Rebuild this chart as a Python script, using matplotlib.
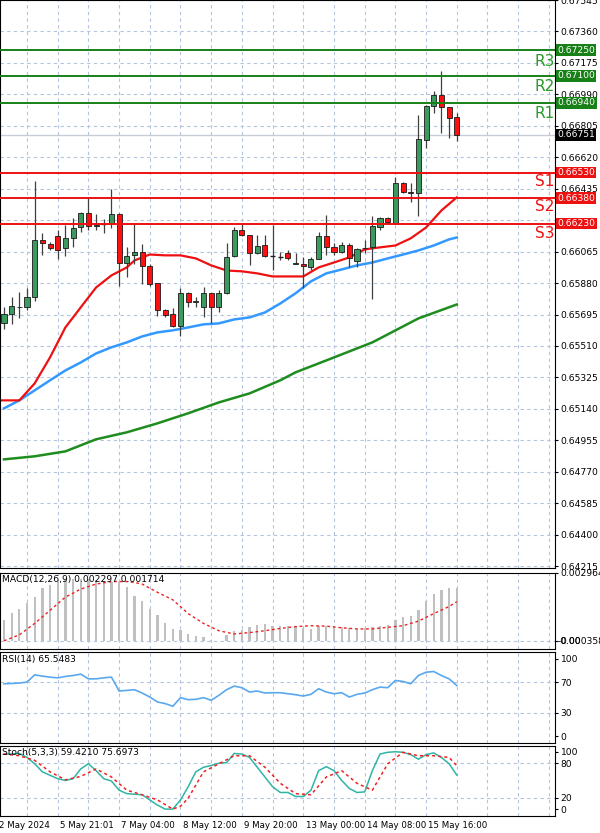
import matplotlib
matplotlib.use("Agg")
import matplotlib.pyplot as plt
import numpy as np

# ---- candles (AUDUSD-like H4) ----
opens = [0.65643, 0.65696, 0.65737, 0.65737, 0.65796, 0.66131, 0.66107, 0.66154, 0.66084, 0.66143,
         0.66207, 0.66295, 0.66213, 0.66225, 0.66231, 0.66284, 0.65996, 0.66043, 0.66060, 0.65978,
         0.65878, 0.65719, 0.65696, 0.65625, 0.65819, 0.65766, 0.65737, 0.65819, 0.65737, 0.65819,
         0.66037, 0.66190, 0.66160, 0.66054, 0.66101, 0.66043, 0.66037, 0.66054, 0.65990, 0.65990,
         0.65972, 0.66019, 0.66154, 0.66090, 0.66060, 0.66101, 0.66007, 0.66084, 0.66090, 0.66207,
         0.66260, 0.66231, 0.66466, 0.66413, 0.66407, 0.66719, 0.66919, 0.66989, 0.66913, 0.66854]
highs = [0.65737, 0.65796, 0.65825, 0.65849, 0.66478, 0.66172, 0.66119, 0.66190, 0.66219, 0.66260,
         0.66300, 0.66378, 0.66284, 0.66254, 0.66431, 0.66290, 0.66090, 0.66225, 0.66107, 0.65990,
         0.65880, 0.65725, 0.65731, 0.65849, 0.65825, 0.65796, 0.65854, 0.65822, 0.65837, 0.66113,
         0.66207, 0.66225, 0.66163, 0.66160, 0.66160, 0.66219, 0.66060, 0.66072, 0.66054, 0.66031,
         0.66031, 0.66178, 0.66278, 0.66113, 0.66119, 0.66113, 0.66084, 0.66131, 0.66272, 0.66266,
         0.66266, 0.66501, 0.66472, 0.66466, 0.66866, 0.66925, 0.67007, 0.67130, 0.66913, 0.66883]
lows = [0.65607, 0.65637, 0.65672, 0.65719, 0.65772, 0.66048, 0.66072, 0.66019, 0.66037, 0.66090,
        0.66178, 0.66190, 0.66190, 0.66172, 0.66201, 0.65860, 0.65913, 0.65990, 0.65872, 0.65860,
        0.65684, 0.65678, 0.65619, 0.65566, 0.65737, 0.65737, 0.65678, 0.65643, 0.65707, 0.65815,
        0.66034, 0.66154, 0.65984, 0.66050, 0.66034, 0.65954, 0.66013, 0.66013, 0.65990, 0.65849,
        0.65954, 0.66019, 0.66043, 0.66043, 0.66054, 0.65972, 0.65972, 0.66054, 0.65784, 0.66195,
        0.66225, 0.66231, 0.66407, 0.66354, 0.66272, 0.66672, 0.66878, 0.66760, 0.66731, 0.66713]
closes = [0.65696, 0.65743, 0.65740, 0.65796, 0.66131, 0.66113, 0.66084, 0.66072, 0.66143, 0.66201,
          0.66295, 0.66213, 0.66219, 0.66226, 0.66284, 0.65996, 0.66037, 0.66060, 0.65978, 0.65872,
          0.65719, 0.65690, 0.65625, 0.65819, 0.65766, 0.65772, 0.65819, 0.65737, 0.65819, 0.66031,
          0.66190, 0.66160, 0.66054, 0.66096, 0.66037, 0.66041, 0.66036, 0.66025, 0.65996, 0.65978,
          0.66019, 0.66154, 0.66090, 0.66060, 0.66101, 0.66025, 0.66078, 0.66086, 0.66213, 0.66260,
          0.66237, 0.66466, 0.66413, 0.66411, 0.66725, 0.66919, 0.66989, 0.66913, 0.66848, 0.66751]

# ---- moving averages (read at selected candles) ----
ma_red_idx = [0, 2, 4, 6, 8, 10, 12, 14, 16, 17, 19, 21, 23, 25, 27, 29, 31, 33, 35, 37,
              39, 41, 43, 45, 47, 49, 51, 53, 55, 57, 59]
ma_red = [0.65190, 0.65190, 0.65290, 0.65443, 0.65619, 0.65737, 0.65854, 0.65925, 0.65972, 0.66013,
          0.66048, 0.66043, 0.66043, 0.66025, 0.65984, 0.65954, 0.65949, 0.65937, 0.65919, 0.65919,
          0.65919, 0.65972, 0.66001, 0.66031, 0.66078, 0.66090, 0.66101, 0.66143, 0.66207, 0.66307, 0.66384]
ma_blue_idx = list(range(0, 59, 2)) + [59]
ma_blue = [0.65143, 0.65190, 0.65249, 0.65308, 0.65366, 0.65413, 0.65466, 0.65502, 0.65531, 0.65566,
           0.65590, 0.65602, 0.65619, 0.65637, 0.65643, 0.65666, 0.65678, 0.65707, 0.65760, 0.65820,
           0.65890, 0.65937, 0.65960, 0.65984, 0.66001, 0.66025, 0.66048, 0.66072, 0.66101, 0.66137, 0.66148]
ma_green_idx = [0, 4, 8, 12, 16, 20, 24, 28, 32, 36, 38, 42, 48, 54, 59]
ma_green = [0.64843, 0.64861, 0.64890, 0.64961, 0.65002, 0.65055, 0.65114, 0.65178, 0.65231, 0.65308,
            0.65355, 0.65425, 0.65531, 0.65672, 0.65754]

# ---- pivot levels ----
res_levels = [0.67250, 0.67100, 0.66940]
sup_levels = [0.66530, 0.66380, 0.66230]
res_names = ["R3", "R2", "R1"]
sup_names = ["S1", "S2", "S3"]
last_price = 0.66751
price_ticks = [0.67545, 0.67360, 0.67175, 0.66990, 0.66805, 0.66620, 0.66435, 0.66250, 0.66065,
               0.65880, 0.65695, 0.65510, 0.65325, 0.65140, 0.64955, 0.64770, 0.64585, 0.64400, 0.64215]

# ---- MACD ----
macd_hist = [0.00093, 0.00122, 0.00140, 0.00165, 0.00193, 0.00231, 0.00245, 0.00259, 0.00265, 0.00269,
             0.00269, 0.00269, 0.00265, 0.00262, 0.00259, 0.00255, 0.00234, 0.00198, 0.00173, 0.00140,
             0.00112, 0.00079, 0.00052, 0.00047, 0.00030, 0.00021, 0.00016, 0.00004, 0.00001, 0.00026,
             0.00044, 0.00047, 0.00062, 0.00069, 0.00072, 0.00064, 0.00064, 0.00066, 0.00066, 0.00054,
             0.00052, 0.00066, 0.00064, 0.00064, 0.00062, 0.00054, 0.00052, 0.00054, 0.00062, 0.00064,
             0.00069, 0.00090, 0.00105, 0.00107, 0.00136, 0.00173, 0.00205, 0.00222, 0.00233, 0.00230]
macd_sig_idx = [0, 2, 4, 6, 8, 10, 12, 14, 16, 17, 18, 20, 22, 24, 26, 28, 30, 32, 34, 36,
                38, 40, 42, 44, 46, 48, 50, 52, 54, 56, 58, 59]
macd_sig = [0.00000, 0.00026, 0.00076, 0.00133, 0.00191, 0.00226, 0.00248, 0.00259, 0.00259, 0.00255,
            0.00248, 0.00212, 0.00179, 0.00119, 0.00076, 0.00044, 0.00030, 0.00036, 0.00044, 0.00054,
            0.00062, 0.00066, 0.00064, 0.00057, 0.00052, 0.00052, 0.00059, 0.00066, 0.00086, 0.00119,
            0.00150, 0.00171]

# ---- RSI ----
rsi = [67.8, 68.2, 68.7, 70.0, 79.4, 77.7, 76.4, 75.5, 77.3, 78.5, 80.3, 74.2, 74.2, 75.5, 76.4,
       58.4, 59.2, 60.1, 55.8, 50.6, 44.2, 42.1, 38.6, 49.8, 47.2, 47.6, 49.8, 46.4, 52.8, 60.1,
       64.8, 62.7, 57.1, 58.4, 55.8, 56.2, 56.2, 54.9, 53.6, 51.9, 54.1, 61.4, 57.1, 54.9, 56.2,
       50.6, 54.1, 55.8, 60.1, 63.5, 62.7, 72.1, 70.8, 67.8, 78.5, 82.8, 83.7, 78.5, 74.2, 65.5]

# ---- Stochastic ----
stoch_k = [96, 96, 97, 90, 79, 65, 59, 53, 50, 53, 70, 79, 67, 53, 49, 33, 27, 26, 25, 16,
           7, 0, 0, 16, 39, 65, 73, 76, 80, 81, 97, 96, 90, 73, 56, 39, 29, 29, 22, 22,
           33, 67, 74, 67, 50, 36, 29, 30, 67, 96, 99, 100, 99, 95, 87, 95, 98, 90, 79, 59.4]
stoch_d_idx = [0, 2, 4, 6, 8, 10, 12, 14, 16, 18, 20, 22, 23, 24, 26, 28, 30, 32, 34, 36,
               38, 40, 42, 44, 46, 48, 50, 52, 54, 56, 58, 59]
stoch_d = [96, 93, 85, 65, 51, 57, 70, 56, 33, 25, 16, 0, 5, 19, 65, 79, 93, 93, 73, 45,
           27, 25, 56, 67, 45, 33, 79, 99, 93, 93, 90, 75.7]

date_idx = [-1, 7, 15, 23, 31, 39, 47, 55]
date_labels = ["2 May 2024", "5 May 21:01", "7 May 04:00", "8 May 12:00", "9 May 20:00",
               "13 May 00:00", "14 May 08:00", "15 May 16:00"]

GRID = dict(color="#b4c4dc", linestyle=(0, (3, 3)), linewidth=0.8)
XLIM = (-0.52, 71.8)
grid_x = np.arange(3, 72, 4)
FS = 6.6


def setup(ax):
    ax.set_xlim(*XLIM)
    ax.set_xticks(grid_x)
    ax.tick_params(axis="x", length=0, labelbottom=False)
    ax.yaxis.tick_right()
    ax.tick_params(axis="y", labelsize=FS, length=2, pad=2)
    ax.set_facecolor("white")
    for s in ax.spines.values():
        s.set_linewidth(0.8)
    ax.grid(axis="x", **GRID)


fig = plt.figure(figsize=(6, 8.33), dpi=100)
W = 555 / 600
ax = fig.add_axes([0, 1 - 568 / 833, W, 568 / 833])
ax_m = fig.add_axes([0, 1 - 649 / 833, W, 76 / 833])
ax_r = fig.add_axes([0, 1 - 743 / 833, W, 91 / 833])
ax_s = fig.add_axes([0, 1 - 816 / 833, W, 70 / 833])
for a in (ax, ax_m, ax_r, ax_s):
    setup(a)

# main chart
ax.set_ylim(0.64204, 0.67542)
ax.set_yticks(price_ticks)
box_levels = res_levels + [last_price] + sup_levels
ax.set_yticklabels(["" if min(abs(p - b) for b in box_levels) < 0.0004 else f"{p:.5f}"
                    for p in price_ticks])
for p in price_ticks:
    ax.axhline(p, zorder=0, **GRID)
ax.axhline(last_price, color="#c8ccd4", linewidth=1, zorder=1)

x = np.arange(len(closes))
for i in x:
    o, h, l, c = opens[i], highs[i], lows[i], closes[i]
    ax.vlines(i, l, h, color="#404040", linewidth=0.9, zorder=3)
    up = c >= o
    body = max(abs(c - o), 0.000015)
    if abs(c - o) < 0.00002:
        ax.hlines(c, i - 0.35, i + 0.35, color="#202020", linewidth=1, zorder=4)
        continue
    ax.bar(i, body, bottom=min(o, c), width=0.66,
           color="#3c9a5f" if up else "#ff1010", edgecolor="#1a1a1a", linewidth=0.6, zorder=4)

ax.plot(ma_green_idx, ma_green, color="#1e8c1e", linewidth=1.8, zorder=2)
ax.plot(ma_blue_idx, ma_blue, color="#3399ff", linewidth=1.8, zorder=2)
ax.plot([-0.6] + ma_red_idx, [ma_red[0]] + ma_red, color="#ee1111", linewidth=1.6, zorder=2)

for lv, nm in zip(res_levels, res_names):
    ax.axhline(lv, color="#178017", linewidth=1.4, zorder=5)
    ax.text(1.004, lv, f"{lv:.5f}", transform=ax.get_yaxis_transform(), fontsize=FS, color="white",
            va="center", ha="left", bbox=dict(boxstyle="square,pad=0.15", fc="#178017", ec="none"),
            clip_on=False)
for lv, nm in zip(sup_levels, sup_names):
    ax.axhline(lv, color="#ee1111", linewidth=1.4, zorder=5)
    ax.text(1.004, lv, f"{lv:.5f}", transform=ax.get_yaxis_transform(), fontsize=FS, color="white",
            va="center", ha="left", bbox=dict(boxstyle="square,pad=0.15", fc="#ee1111", ec="none"),
            clip_on=False)
ax.text(1.004, last_price, f"{last_price:.5f}", transform=ax.get_yaxis_transform(), fontsize=FS,
        color="white", va="center", ha="left",
        bbox=dict(boxstyle="square,pad=0.15", fc="black", ec="none"), clip_on=False)

res_label_y = [0.67182, 0.67035, 0.66880]
sup_label_y = [0.66480, 0.66330, 0.66170]
for nm, y in zip(res_names, res_label_y):
    ax.text(70.5, y, nm, color="#2a9a2a", fontsize=11, ha="center", va="center")
for nm, y in zip(sup_names, sup_label_y):
    ax.text(70.5, y, nm, color="#ee1111", fontsize=11, ha="center", va="center")

# MACD
ax_m.set_ylim(-0.000358, 0.002964)
ax_m.set_yticks([0.002964, 0.0])
ax_m.set_yticklabels(["0.002964", "0.00"])
ax_m.text(1.004, -0.00005, "-0.000358", transform=ax_m.get_yaxis_transform(), fontsize=FS,
          va="center", ha="left", clip_on=False)
ax_m.axhline(0, zorder=0, **GRID)
ax_m.bar(x, macd_hist, width=0.3, color="#c0c0c0", zorder=2)
ax_m.plot(macd_sig_idx, macd_sig, color="#ee2222", linestyle=(0, (2, 2)), linewidth=1, zorder=3)
ax_m.text(0.003, 0.97, "MACD(12,26,9) 0.002297 0.001714", transform=ax_m.transAxes,
          fontsize=FS, va="top", ha="left")

# RSI
ax_r.set_ylim(-9, 109)
ax_r.set_yticks([100, 70, 30, 0])
for v in (70, 30):
    ax_r.axhline(v, zorder=0, **GRID)
ax_r.plot(x, rsi, color="#5aa8ee", linewidth=1.2)
ax_r.text(0.003, 0.97, "RSI(14) 65.5483", transform=ax_r.transAxes, fontsize=FS, va="top", ha="left")

# Stochastic
ax_s.set_ylim(-12, 110)
ax_s.set_yticks([100, 80, 20, 0])
for v in (80, 20):
    ax_s.axhline(v, zorder=0, **GRID)
ax_s.plot(x, stoch_k, color="#2fb5a5", linewidth=1.1)
ax_s.plot(stoch_d_idx, stoch_d, color="#ee2222", linestyle=(0, (2, 2)), linewidth=1.1)
ax_s.text(0.003, 0.97, "Stoch(5,3,3) 59.4210 75.6973", transform=ax_s.transAxes, fontsize=FS,
          va="top", ha="left")
for i, lab in zip(date_idx, date_labels):
    ax_s.text(i + 0.3, -0.07, lab, transform=ax_s.get_xaxis_transform(), fontsize=6.2,
              ha="left", va="top", clip_on=False)

fig.savefig("out.png", dpi=100, facecolor="white")
